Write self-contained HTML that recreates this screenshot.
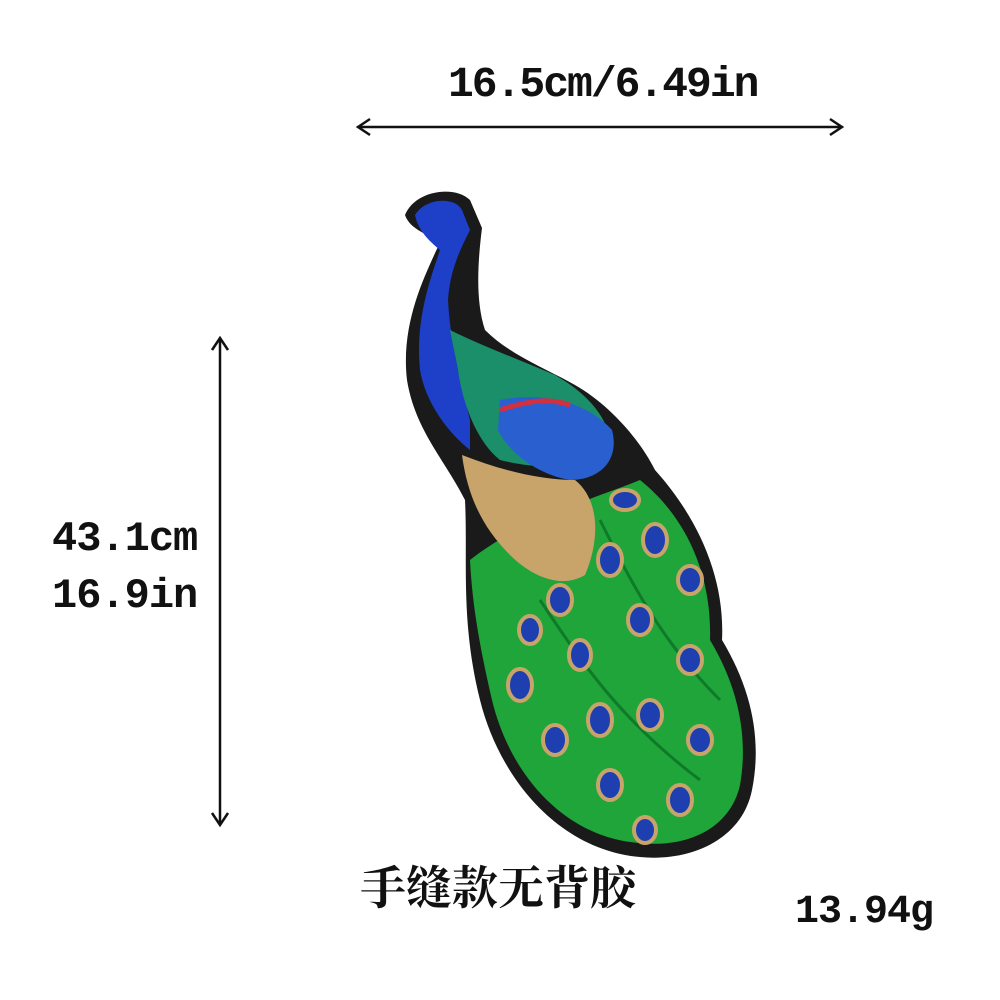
<!DOCTYPE html>
<html><head><meta charset="utf-8">
<style>
html,body{margin:0;padding:0;background:#fff;}
#wrap{position:relative;width:1000px;height:1000px;overflow:hidden;background:#fff;}
.t{position:absolute;font-family:"Liberation Mono","DejaVu Sans Mono",monospace;font-weight:bold;color:#111;white-space:nowrap;}
</style></head>
<body>
<div id="wrap">
<div class="t" style="left:448px;top:60px;font-size:43px;letter-spacing:-2px;">16.5cm/6.49in</div>
<div class="t" style="left:52px;top:515px;font-size:42px;letter-spacing:-1px;">43.1cm</div>
<div class="t" style="left:52px;top:572px;font-size:42px;letter-spacing:-1px;">16.9in</div>
<div class="t" style="left:795px;top:890px;font-size:40px;letter-spacing:-1px;">13.94g</div>
<div class="t" style="left:360px;top:852px;font-size:46px;font-weight:bold;font-family:'Liberation Serif','Noto Serif CJK SC',serif;">手缝款无背胶</div>

<svg width="1000" height="1000" style="position:absolute;left:0;top:0">
  <g stroke="#111" stroke-width="2.5" fill="none">
    <line x1="358" y1="127" x2="842" y2="127"/>
    <polyline points="370,119 358,127 370,135"/>
    <polyline points="830,119 842,127 830,135"/>
  </g>
  <g stroke="#111" stroke-width="2.5" fill="none">
    <line x1="220" y1="338" x2="220" y2="825"/>
    <polyline points="212,350 220,338 228,350"/>
    <polyline points="212,813 220,825 228,813"/>
  </g>
  <g>
    <path fill="#1a1a1a" d="M405,215 C415,190 455,185 470,200 L482,228 C478,260 475,300 485,330 C510,355 545,368 575,385 C610,405 640,440 655,470 C700,520 725,580 722,640 C752,690 762,740 752,790 C742,840 690,862 640,857 C560,850 500,780 480,700 C460,620 468,560 465,500 C445,460 415,430 407,380 C400,320 428,270 440,242 C430,235 410,230 405,215Z"/>
    <path fill="#1fa53a" d="M470,560 C520,520 590,500 640,480 C690,520 712,580 710,640 C740,690 748,740 740,785 C730,830 685,848 640,843 C565,838 510,775 492,700 C478,640 472,600 470,560Z"/>
    <path fill="none" stroke="#0f7a2a" stroke-width="3" d="M540,600 C580,660 620,720 700,780 M600,520 C630,580 660,640 720,700"/>
    <path fill="#1e3fc8" d="M415,215 C425,198 455,196 462,210 L470,230 C460,250 450,270 448,300 C450,340 460,380 470,420 L470,450 C445,430 425,400 420,370 C415,320 430,280 440,250 C428,240 418,230 415,215Z"/>
    <path fill="#1a8f6a" d="M450,330 C480,345 520,360 555,375 C590,395 610,420 612,450 C590,470 540,470 500,460 C475,440 462,400 458,370Z"/>
    <path fill="#2a5fd0" d="M500,400 C540,392 585,400 612,430 C620,460 600,480 570,480 C540,475 510,455 498,430Z"/>
    <path fill="none" stroke="#d03040" stroke-width="5" d="M500,410 C530,400 550,398 570,405"/>
    <path fill="#c9a46a" d="M462,455 C500,470 540,480 575,480 C600,500 600,540 585,575 C560,590 530,575 510,555 C485,530 468,500 462,455Z"/>
    <g fill="#1d3fb0" stroke="#c9a46a" stroke-width="4">
      <ellipse cx="625" cy="500" rx="14" ry="10"/>
      <ellipse cx="655" cy="540" rx="12" ry="16"/>
      <ellipse cx="690" cy="580" rx="12" ry="14"/>
      <ellipse cx="610" cy="560" rx="12" ry="16"/>
      <ellipse cx="560" cy="600" rx="12" ry="15"/>
      <ellipse cx="530" cy="630" rx="11" ry="14"/>
      <ellipse cx="580" cy="655" rx="11" ry="15"/>
      <ellipse cx="640" cy="620" rx="12" ry="15"/>
      <ellipse cx="690" cy="660" rx="12" ry="14"/>
      <ellipse cx="520" cy="685" rx="12" ry="16"/>
      <ellipse cx="600" cy="720" rx="12" ry="16"/>
      <ellipse cx="650" cy="715" rx="12" ry="15"/>
      <ellipse cx="555" cy="740" rx="12" ry="15"/>
      <ellipse cx="700" cy="740" rx="12" ry="14"/>
      <ellipse cx="610" cy="785" rx="12" ry="15"/>
      <ellipse cx="680" cy="800" rx="12" ry="15"/>
      <ellipse cx="645" cy="830" rx="11" ry="13"/>
    </g>
  </g>
</svg>
</div>
</body></html>
